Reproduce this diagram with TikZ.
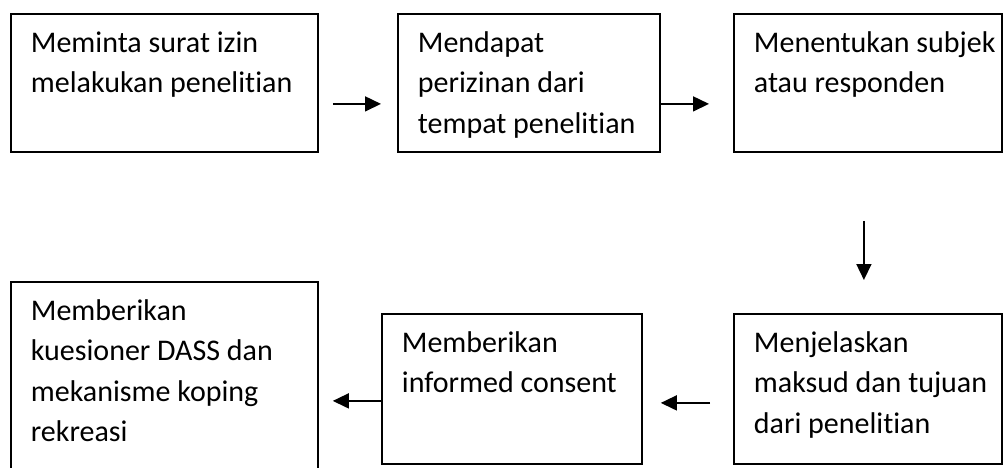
\documentclass[tikz,border=0pt]{standalone}
\usepackage{fontspec}
\setmainfont[Ligatures={NoCommon}]{Carlito}
\usepackage{tikz}
\usetikzlibrary{calc,positioning,arrows.meta}
\tikzset{
	x=1pt, y=-1pt,
	>={Triangle[length=16pt,width=15pt]},
	stepbox/.style={draw, line width=1.8pt, anchor=north west, inner xsep=0pt, inner ysep=10pt, font=\fontsize{30}{40.5}\selectfont},
	flow/.style={->, line width=1.6pt},
}
% text of a box: height, width, lines
\newcommand{\boxtext}[3]{\parbox[t][#1][t]{#2}{\raggedright\leftskip=20pt\strut #3}}

\begin{document}
\begin{tikzpicture}
		\useasboundingbox (0,0) rectangle (1003,468);

		\node[stepbox] (b1) at (10,13) {\boxtext{118pt}{307pt}{Meminta surat izin\\ melakukan penelitian}};
		\node[stepbox] (b2) at (397,13) {\boxtext{118pt}{262pt}{Mendapat\\ perizinan dari\\ tempat penelitian}};
		\node[stepbox] (b3) at (733,13) {\boxtext{118pt}{268pt}{Menentukan subjek\\ atau responden}};
		\node[stepbox] (b4) at (733,313) {\boxtext{130pt}{268pt}{Menjelaskan\\ maksud dan tujuan\\ dari penelitian}};
		\node[stepbox] (b5) at (381,313) {\boxtext{130pt}{260pt}{Memberikan\\ informed consent}};
		\node[stepbox] (b6) at (10,281) {\boxtext{170pt}{307pt}{Memberikan\\ kuesioner DASS dan\\ mekanisme koping\\ rekreasi}};

		\draw[flow, shorten <=14pt, shorten >=16pt] ([yshift=-21pt]b1.east) -- ([yshift=-21pt]b2.west);
		\draw[flow, shorten >=24pt] ([yshift=-21pt]b2.east) -- ([yshift=-21pt]b3.west);
		\draw[flow, shorten <=68pt, shorten >=33pt] ([xshift=-4pt]b3.south) -- ([xshift=-4pt]b4.north);
		\draw[flow, shorten <=23pt, shorten >=18pt] ([yshift=-14pt]b4.west) -- ([yshift=-14pt]b5.east);
		\draw[flow, shorten >=14pt] ([yshift=-12pt]b5.west) -- ([yshift=-24pt]b6.east);
	\end{tikzpicture}
\end{document}
